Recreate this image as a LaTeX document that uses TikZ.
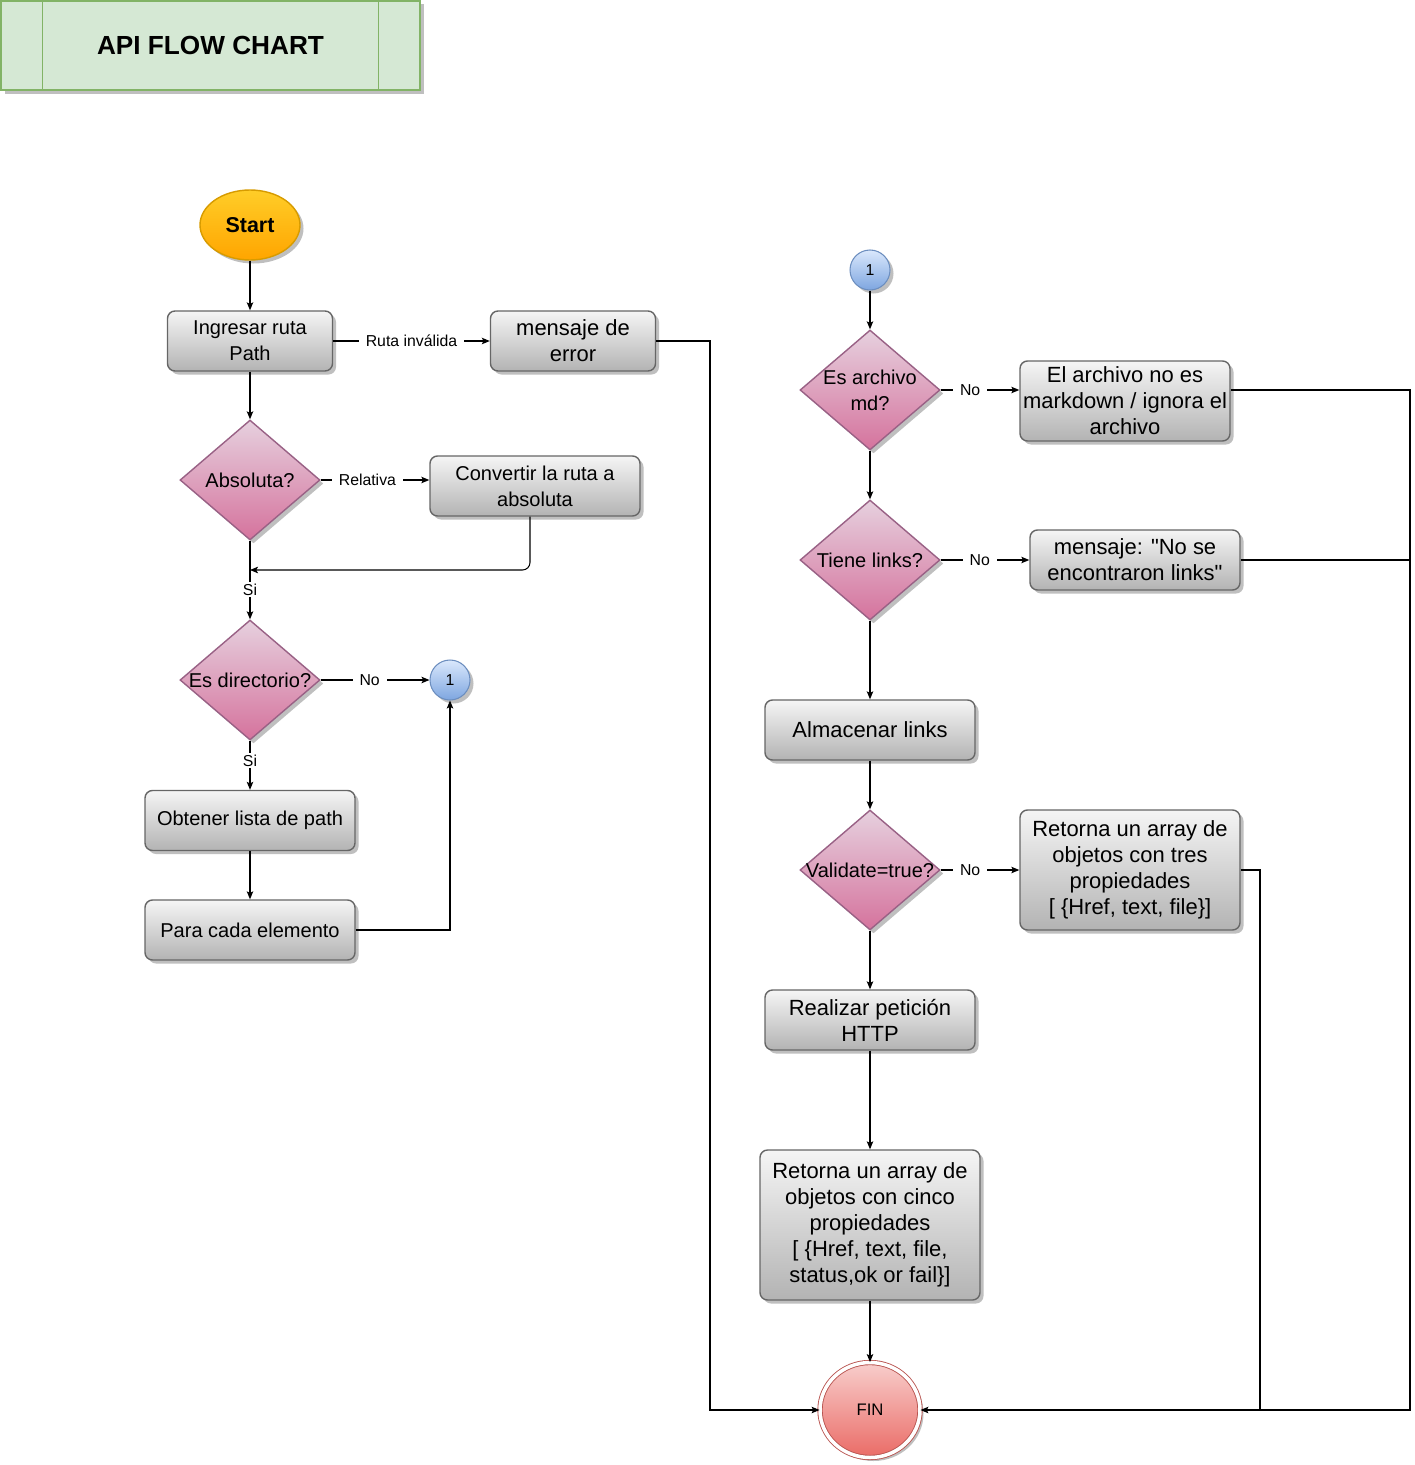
\documentclass[tikz,border=0pt]{standalone}
\usepackage{fontspec}
\setmainfont{Liberation Sans}[Ligatures=TeXOff]
\usetikzlibrary{shapes.geometric, shadows, arrows.meta}
\definecolor{titelvul}{HTML}{d5e8d4}
\definecolor{titelrand}{HTML}{82b366}
\definecolor{grisboven}{HTML}{f5f5f5}
\definecolor{grisonder}{HTML}{b3b3b3}
\definecolor{grisrand}{HTML}{666666}
\definecolor{roseboven}{HTML}{e6d0de}
\definecolor{roseonder}{HTML}{d5739d}
\definecolor{roserand}{HTML}{996185}
\definecolor{oroboven}{HTML}{ffcd28}
\definecolor{oroonder}{HTML}{ffa500}
\definecolor{ororand}{HTML}{d79b00}
\definecolor{azulboven}{HTML}{dae8fc}
\definecolor{azulonder}{HTML}{7ea6e0}
\definecolor{azulrand}{HTML}{6c8ebf}
\definecolor{rojoboven}{HTML}{f8cecc}
\definecolor{rojoonder}{HTML}{ea6b66}
\definecolor{rojorand}{HTML}{b85450}
\tikzstyle{sombra}=[drop shadow={shadow xshift=0.07cm, shadow yshift=-0.07cm, fill=black, opacity=0.25}]
\tikzstyle{proceso}=[rectangle,
                             draw=grisrand,
                             line width=0.8pt,
                             rounded corners=0.15cm,
                             top color=grisboven,
                             bottom color=grisonder,
                             align=center,
                             inner sep=0.5pt,
                             minimum width=4.2cm,
                             minimum height=1.2cm,
                             sombra
                            ]
\tikzstyle{grande}=[font=\fontsize{12.5}{14.8}\selectfont]
\tikzstyle{decision}=[diamond,
                             draw=roserand,
                             line width=0.8pt,
                             top color=roseboven,
                             bottom color=roseonder,
                             minimum width=2.8cm,
                             minimum height=2.4cm,
                             inner sep=0pt,
                             sombra
                            ]
\tikzstyle{conector}=[circle, draw=azulrand, line width=0.6pt, top color=azulboven, bottom color=azulonder,
                      minimum size=0.8cm, inner sep=0pt, font=\fontsize{9}{11}\selectfont, sombra]
\tikzstyle{lbl}=[fill=white, inner xsep=4pt, inner ysep=1pt, font=\fontsize{9}{11}\selectfont]
\tikzstyle{flecha}=[-{Stealth[length=1.6mm, width=1.3mm, inset=0.35mm]}, line width=0.6pt]

\begin{document}
\begin{tikzpicture}[every node/.style={font=\fontsize{11.4}{14.8}\selectfont}]
  \useasboundingbox (0,0) rectangle (28.3cm,-29.3cm);

  \node at (4.21cm, -0.91cm) (titulo) [rectangle, draw=titelrand, fill=titelvul, line width=0.8pt,
        minimum width=8.38cm, minimum height=1.78cm, sombra,
        font=\fontsize{14.9}{17}\selectfont\bfseries] {API FLOW CHART};
  \draw[titelrand, line width=0.8pt] ([xshift=0.84cm]titulo.north west) -- ([xshift=0.84cm]titulo.south west);
  \draw[titelrand, line width=0.8pt] ([xshift=-0.84cm]titulo.north east) -- ([xshift=-0.84cm]titulo.south east);

  % columna izquierda
  \node at (5.0cm, -4.5cm) (start) [ellipse, draw=ororand, line width=0.8pt, top color=oroboven, bottom color=oroonder,
        minimum width=2.0cm, minimum height=1.4cm, sombra, font=\fontsize{12.2}{14}\selectfont\bfseries] {Start};
  \node at (5.0cm, -6.82cm) (ingresar) [proceso, minimum width=3.3cm] {Ingresar ruta\\Path};
  \node at (11.46cm, -6.82cm) (error) [proceso, grande, minimum width=3.3cm] {mensaje de\\error};

  \node at (5.0cm, -9.6cm) (absoluta) [decision] {};
  \node at (5.0cm, -9.6cm) (absolutaT) {Absoluta?};
  \node at (10.7cm, -9.72cm) (convertir) [proceso] {Convertir la ruta a\\absoluta};
  \coordinate (union) at (5.0cm, -11.4cm);

  \node at (5.0cm, -13.6cm) (directorio) [decision] {};
  \node at (5.0cm, -13.6cm) (directorioT) {Es directorio?};
  \node at (9.0cm, -13.6cm) (uno) [conector] {1};

  \node at (5.0cm, -16.41cm) (obtener) [proceso] {Obtener lista de path};
  \node at (5.0cm, -18.6cm) (para) [proceso] {Para cada elemento};

  \draw[flecha] (start.south) -- (ingresar.north);
  \draw[flecha] (ingresar.east) -- (error.west) node [lbl, pos=0.5] {Ruta inválida};
  \draw[flecha] (ingresar.south) -- (absoluta.north);
  \draw[flecha] (absoluta.east) -- (absoluta.east -| convertir.west) node [lbl, pos=0.43] {Relativa};
  \draw[flecha, rounded corners=0.15cm] ([xshift=-0.1cm]convertir.south) |- (union);
  \draw[flecha] (absoluta.south) -- (directorio.north) node [lbl, pos=0.62] {Si};
  \draw[flecha] (directorio.east) -- (uno.west) node [lbl, pos=0.45] {No};
  \draw[flecha] (directorio.south) -- (obtener.north) node [lbl, pos=0.4] {Si};
  \draw[flecha] (obtener.south) -- (para.north);
  \draw[flecha] (para.east) -| (uno.south);

  % columna derecha
  \node at (17.4cm, -5.4cm) (dos) [conector] {1};
  \node at (17.4cm, -7.8cm) (esmd) [decision] {};
  \node at (17.4cm, -7.8cm) (esmdT) [align=center] {Es archivo\\md?};
  \node at (22.5cm, -8.02cm) (nomd) [proceso, grande, minimum height=1.6cm] {El archivo no es\\markdown / ignora el\\archivo};

  \node at (17.4cm, -11.2cm) (links) [decision] {};
  \node at (17.4cm, -11.2cm) (linksT) {Tiene links?};
  \node at (22.7cm, -11.2cm) (nolinks) [proceso, grande] {mensaje: "No se\\encontraron links"};

  \node at (17.4cm, -14.6cm) (almacenar) [proceso, grande] {Almacenar links};

  \node at (17.4cm, -17.4cm) (validate) [decision] {};
  \node at (17.4cm, -17.4cm) (validateT) {Validate=true?};
  \node at (22.6cm, -17.4cm) (tres) [proceso, grande, minimum width=4.4cm, minimum height=2.4cm]
        {Retorna un array de\\objetos con tres\\propiedades\\{[} \{Href, text, file\}]};

  \node at (17.4cm, -20.4cm) (http) [proceso, grande] {Realizar petición\\HTTP};
  \node at (17.4cm, -24.5cm) (cinco) [proceso, grande, minimum width=4.4cm, minimum height=3.0cm]
        {Retorna un array de\\objetos con cinco\\propiedades\\{[} \{Href, text, file,\\status,ok or fail\}]};

  \node at (17.4cm, -28.2cm) (fin) [ellipse, draw=rojorand, line width=0.5pt, double=white, double distance=0.07cm,
        top color=rojoboven, bottom color=rojoonder, minimum width=2.0cm, minimum height=1.9cm,
        sombra, font=\fontsize{9.5}{11}\selectfont] {FIN};

  \coordinate (izquierda) at (14.2cm, -6.82cm);
  \coordinate (derecha) at (28.2cm, -7.8cm);
  \coordinate (union2) at (25.2cm, -28.2cm);

  \draw[flecha] (dos.south) -- (esmd.north);
  \draw[flecha] (esmd.east) -- (esmd.east -| nomd.west) node [lbl, pos=0.375] {No};
  \draw[flecha] (esmd.south) -- (links.north);
  \draw[flecha] (links.east) -- (nolinks.west) node [lbl, pos=0.44] {No};
  \draw[flecha] (links.south) -- (almacenar.north);
  \draw[flecha] (almacenar.south) -- (validate.north);
  \draw[flecha] (validate.east) -- (tres.west) node [lbl, pos=0.375] {No};
  \draw[flecha] (validate.south) -- (http.north);
  \draw[flecha] (http.south) -- (cinco.north);
  \draw[flecha] (cinco.south) -- (fin.north);

  \draw[flecha] (error.east) -- (izquierda) |- (fin.west);
  \draw[flecha] (esmd.east -| nomd.east) -- (derecha) |- (fin.east);
  \draw[line width=0.6pt] (nolinks.east) -- (nolinks.east -| derecha);
  \draw[line width=0.6pt] (tres.east) -| (union2);
\end{tikzpicture}
\end{document}
